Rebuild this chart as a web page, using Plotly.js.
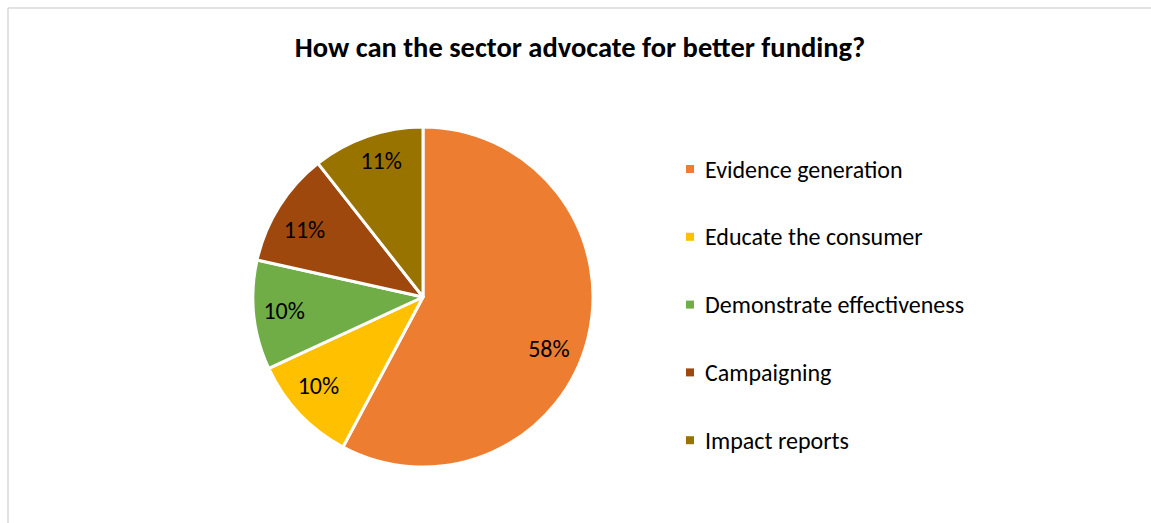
<!DOCTYPE html>
<html><head><meta charset="utf-8">
<script src="https://cdn.plot.ly/plotly-3.0.1.min.js"></script>
<style>html,body{margin:0;padding:0;background:#fff}#chart{width:1151px;height:523px}</style>
</head><body><div id="chart"></div>
<script>
const categories = ["Evidence generation","Educate the consumer","Demonstrate effectiveness","Campaigning","Impact reports"];
const values = [57.8, 10.3, 10.4, 10.9, 10.6];
const colors = ["#ED7D31","#FFC000","#70AD47","#9E480E","#997300"];
const titleText = "How can the sector advocate for better funding?";

const W = 1151, H = 523;
const font = "Calibri, Carlito, 'Open Sans', sans-serif";
const cx = 423, cy = 297, r = 170;

const shapes = [
  {type:'line', xref:'paper', yref:'paper', x0:8/W, x1:1, y0:1-8/H, y1:1-8/H, line:{color:'#d9d9d9', width:1.5}},
  {type:'line', xref:'paper', yref:'paper', x0:8/W, x1:8/W, y0:1-8/H, y1:0, line:{color:'#d9d9d9', width:1.5}}
];
const annotations = [];
const legX = 690, legY0 = 169, legStep = 67.8, sq = 8;
categories.forEach((c,i)=>{
  const y = legY0 + i*legStep;
  shapes.push({type:'rect', xref:'paper', yref:'paper', x0:(legX-sq/2)/W, x1:(legX+sq/2)/W, y0:1-(y+sq/2)/H, y1:1-(y-sq/2)/H, fillcolor:colors[i], line:{width:0}});
  annotations.push({xref:'paper', yref:'paper', x:703/W, y:1-y/H, xanchor:'left', yanchor:'middle', text:c, showarrow:false, font:{family:font, size:24, color:'#000'}});
});

const nb = n => '\u00a0'.repeat(n);
const pct = '%{percent:.0%}';
const templates = [
  '\u00a0<br>\u00a0<br>'+nb(16)+pct,
  pct+nb(4),
  pct+nb(4),
  pct+nb(4),
  pct+'<br>\u00a0'
];

Plotly.newPlot('chart', [{
  type:'pie', labels:categories, values:values, sort:false, direction:'clockwise', rotation:0,
  marker:{colors:colors, line:{color:'#fff', width:3}},
  texttemplate:templates, textposition:'inside', insidetextorientation:'horizontal',
  textfont:{family:font, size:24, color:'#000'},
  domain:{x:[(cx-r)/W,(cx+r)/W], y:[1-(cy+r)/H, 1-(cy-r)/H]},
  hoverinfo:'label+percent', showlegend:false
}], {
  width:W, height:H, margin:{l:0,r:0,t:0,b:0},
  paper_bgcolor:'#fff',
  title:{text:'<b>'+titleText+'</b>', x:580/W, xanchor:'center', y:1-47/H, yanchor:'middle', font:{family:font, size:28.5, color:'#000'}},
  shapes:shapes, annotations:annotations, showlegend:false
}, {staticPlot:true});
</script></body></html>
